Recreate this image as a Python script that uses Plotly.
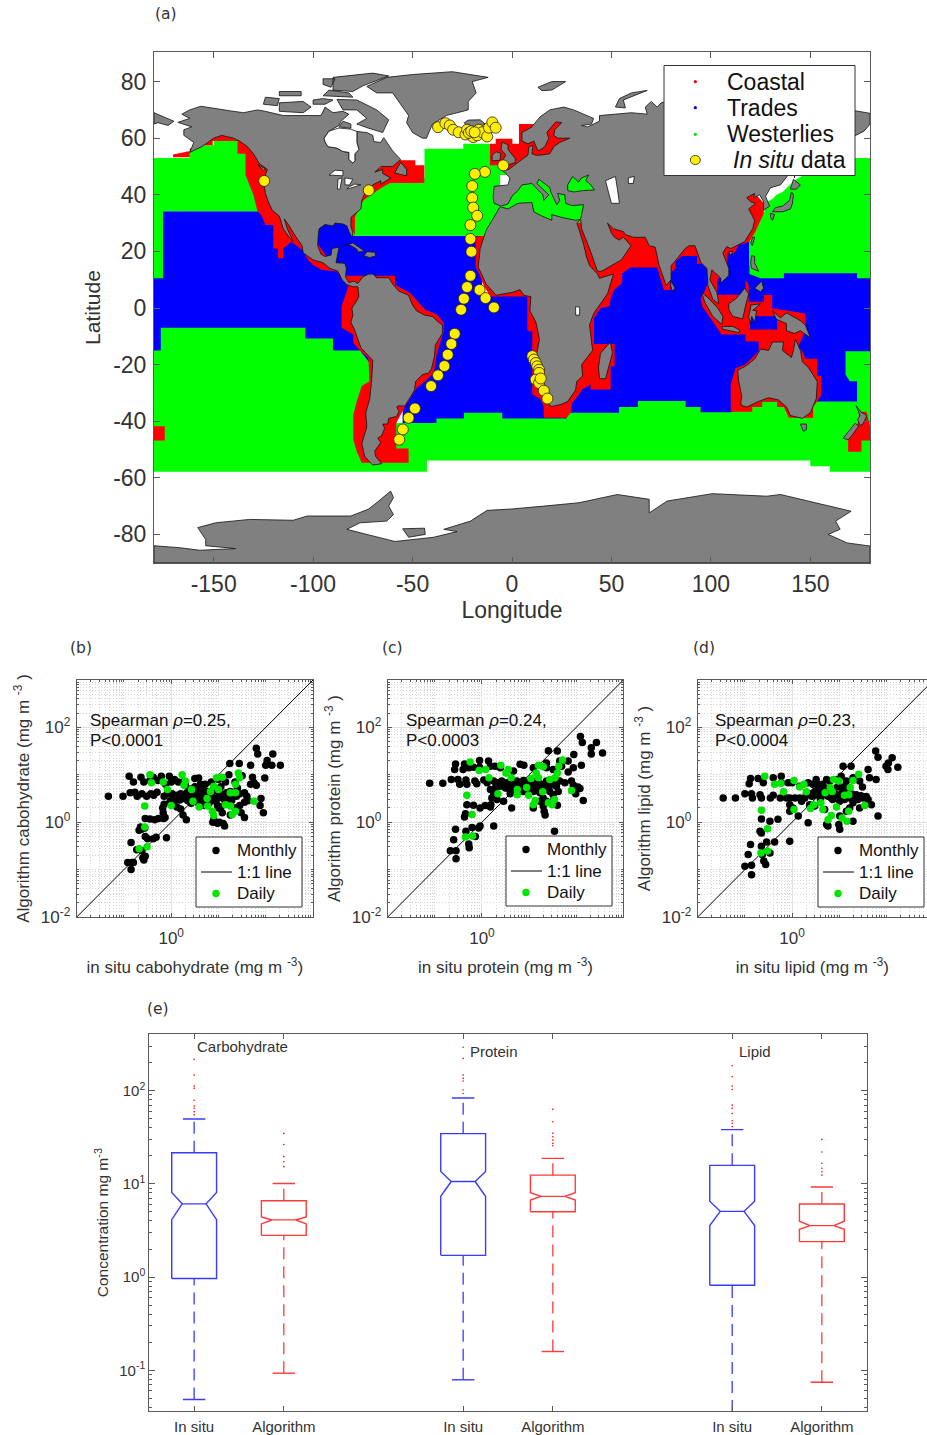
import plotly.graph_objects as go

W, H = 927, 1435

# ---------- Map: ocean provinces (lon, lat) ----------
blue_pacific = [(-180,34.2),(-105,34.2),(-95,20),(-78,8),(-70,-5),(-70,-20),(-180,-20)]
blue_atlantic = [(-99,31),(-81,31),(-79,25.5),(-15,25.5),(-15,5),(15,5),(15,-45),(-55,-45),(-55,-25),(-60,5),(-83,11.4),(-92,17),(-99,20)]
blue_indopacific = [(15,-45),(15,-20),(30,0),(60,20),(119.4,24),(119.4,15),(180,15),(180,-45)]
blue_banda = [(119.7,-2.9),(133.3,-2.9),(133.3,-7.6),(119.7,-7.6)]
green_n_pacific = [(-180,53),(-162,53),(-162,56.4),(-157,56.4),(-157,57.5),(-150,57.5),(-150,59),(-125,59),(-125,34.2),(-175.4,34.2),(-175.4,10.5),(-180,10.5)]
green_n_atlantic = [(-44,56.3),(-24.5,56.3),(-24.5,58),(-11,58),(-1.5,50),(-1.5,43),(-5,36),(-10,25.5),(-81,25.5),(-81,35),(-70,45),(-44,46)]
green_med = [(-6,30),(37,30),(37,47),(-6,47)]
green_nw_pacific = [(180,53),(150,53),(148,47.5),(141.7,45),(139,43),(136,41),(133,40),(131,38.5),(128,37.5),(126.6,33.4),(123,29),(119.4,23),(119.4,12),(125,10.5),(136.7,10.5),(136.7,12.3),(173.5,12.3),(173.5,10.5),(180,10.5)]
green_south = [(-180,-15),(-176.6,-15),(-176.6,-7),(-103.9,-7),(-103.9,-10.8),(-90,-10.8),(-90,-15),(-76.4,-15),(-60,-30),(-58.2,-40.6),(-38,-40.6),(-38,-39),(-24.2,-39),(-24.2,-37),(-4.9,-37),(-4.9,-39),(27.5,-39),(27.5,-37),(53.8,-37),(53.8,-35),(63.3,-35),(63.3,-32.9),(87.3,-32.9),(87.3,-35),(94.8,-35),(94.8,-36.8),(110,-36.8),(125,-33),(173.5,-33),(173.5,-25.9),(169.8,-25.9),(167.7,-23.5),(167.7,-15.3),(180,-15.3),(180,-57.9),(159.8,-57.9),(159.8,-55.9),(150,-55.9),(150,-53.9),(-42.8,-53.9),(-42.8,-57.9),(-180,-57.9)]
red_americas = [(-170.4,53.3),(-162,53.3),(-162,56.4),(-157,56.4),(-157,57.5),(-150.5,57.5),(-150.5,59),(-138,59),(-138,54.5),(-134,54.5),(-134,47),(-132,43.4),(-130,39.9),(-128,34.2),(-126,32.8),(-124,29.3),(-120,29.3),(-120,21),(-117.7,21),(-117.7,17.6),(-115,17.6),(-115,21),(-111,23.4),(-105.5,20.5),(-102.5,17),(-100,15.2),(-95.8,13.5),(-88,12.9),(-84,8.8),(-82.3,7.6),(-85.7,0.6),(-85.7,-7),(-79.8,-9.4),(-79.8,-12.4),(-76.4,-15),(-72.2,-17.6),(-71.7,-25.9),(-75.6,-27.6),(-78.1,-33),(-79.8,-37.9),(-79.8,-46.5),(-78.1,-50.6),(-75.6,-54.7),(-52,-54.7),(-52,-49.6),(-58.2,-49.6),(-58.2,-40.6),(-53.7,-34.7),(-50.3,-31.2),(-47.8,-28.2),(-43.6,-25.9),(-39.4,-22.9),(-37.7,-15.9),(-36,-12.4),(-34.3,-8.2),(-34.3,-5.3),(-37.7,-2.3),(-43.6,-0.6),(-51.2,5.3),(-58.8,8.2),(-58.8,11.4),(-83.2,11.4),(-90,15),(-100,25),(-110,40),(-130,60),(-150,62),(-162,55.5),(-170.4,54.2)]
red_nw_atlantic = [(-79,25.8),(-79,32.2),(-74.7,38.1),(-66.3,42.2),(-61.3,44.2),(-44.1,44.2),(-44.1,50.4),(-48.6,50.4),(-48.6,52.2),(-55.4,52.2),(-60,53),(-75,45),(-82,30)]
red_ne_atlantic = [(-11.1,58),(-8.2,58),(-8.2,59.8),(0.2,59.8),(0.2,58),(3.5,58),(3.5,65),(10.9,65),(25,66),(32,60),(25,53),(8,50),(-1,48),(-3,47.5),(-5,50.4),(-11.1,50.4)]
red_old_world = [(-18.3,25.2),(-18.3,14.6),(-16.5,12),(-14,7.6),(-10.8,4.1),(7.7,4.1),(7.7,-8),(10.2,-8.2),(10.2,-30.6),(14,-32),(16,-34.7),(16,-38.8),(27.5,-38.8),(29.5,-37),(30.3,-33.5),(33.7,-30.6),(35.3,-28.8),(39.5,-27),(39.5,-28.8),(49.6,-28.8),(49.6,-20.6),(51.6,-20.6),(51.6,-12.7),(41.2,-12.7),(41.2,-3.5),(44.6,0),(49.2,0.6),(49.6,3.5),(51.3,6.4),(55.4,8.8),(55.4,12.3),(59.6,14.3),(73,14.3),(76.4,6.4),(79.7,6.4),(79.7,12.3),(82.2,14),(82.2,16.4),(85.6,18.4),(93,18.4),(93,15.6),(97.3,15.6),(99,10),(96.5,5.3),(94.8,3.5),(95.6,0.6),(104.9,-8.8),(105,-9.4),(117.4,-9.4),(117.4,-11.8),(124,-11.8),(124,-15.3),(117.4,-20),(112.4,-21.2),(110,-27),(110,-36.7),(120.8,-36.7),(120.8,-35),(125.8,-35),(125.8,-33),(133.3,-33),(133.3,-35),(136.7,-35),(139.2,-38.8),(151.4,-38.8),(151.4,-35),(153.4,-33),(155.4,-30.8),(155.4,-24),(153.4,-24),(153.4,-17.9),(147.6,-17.9),(145.9,-15.3),(143.9,-13.5),(147.5,-8.2),(147.5,-1.9),(130.8,-0.1),(130.8,4.6),(126.7,4.6),(126.7,2.2),(119,2.2),(119,8.2),(117.4,10),(117.4,4.7),(103.2,4.7),(103.2,10),(108.2,13.5),(108.2,19.3),(111.6,19.3),(114,22.3),(119.4,23.4),(122.4,27),(126.6,33.4),(126.6,37),(122.4,40.4),(118,40.4),(48,32),(33,30)]
red_nz = [(174.4,-36.7),(178.2,-36.7),(180,-41.8),(180,-46.8),(175.7,-46.8),(175.7,-50.8),(169,-50.8),(169,-46.5),(174.4,-40)]
red_dateline = [(-180,-41.8),(-174.6,-41.8),(-174.6,-46.8),(-180,-46.8)]

# ---------- Map: land (lon, lat) ----------
americas = [(-168,65.6),(-164,66.5),(-162,67),(-166,68.5),(-162,70),(-156.5,71.3),(-150,70.5),(-141,69.6),(-135,69),(-128,70),(-124,69.5),(-115,68),(-108,68),(-100,68),(-96,68),(-94,71),(-90,69),(-85,69.5),(-82,68.5),(-86,66),(-87,64.5),(-92,62.5),(-94.5,60),(-94,58.7),(-92.5,57),(-88,56.5),(-85,55.3),(-82,55),(-82,52.5),(-80,51.2),(-79,52),(-79,54.5),(-77,56),(-78,58.5),(-78,62.4),(-73,62),(-70,61),(-69.5,58.8),(-66,58.5),(-64.5,60.2),(-62,57.5),(-60,55.5),(-56,52.5),(-60,50),(-66,50),(-69,48),(-65,49),(-65,47.5),(-61,46),(-64,44.5),(-66,43.7),(-66,45),(-70,43.5),(-70.5,42),(-74,40.5),(-75.5,38),(-76,35),(-78,33.8),(-81,32),(-81,29),(-80,26.5),(-80.5,25),(-82,27),(-83,29),(-85,29.7),(-89,30),(-90,29),(-94,29.5),(-97,28),(-97.5,25),(-97.7,22),(-96,19),(-94,18.2),(-91,18.7),(-90.5,21),(-87,21.5),(-88,18),(-88.5,16),(-84,15.8),(-83.3,14),(-83.7,11),(-82,9),(-79.5,9.5),(-77.5,8.7),(-75,11),(-72,12),(-70,12),(-68,10.7),(-62,10.7),(-60,8.5),(-57,6),(-52,4.5),(-50,1),(-48,-1),(-44,-2.5),(-40,-3),(-37,-5),(-35,-6),(-35,-9),(-38.5,-13),(-39,-17),(-40.5,-21.5),(-42,-23),(-45,-23.5),(-48.5,-26),(-49,-29),(-52,-32.5),(-54,-34.7),(-57,-34.5),(-58,-35),(-56.8,-36.5),(-58,-38.3),(-62,-39),(-62.5,-41),(-65,-41),(-64,-42.5),(-65.5,-45),(-67.5,-46),(-66,-47.5),(-69,-50.5),(-68.5,-52.5),(-65.5,-55),(-70,-55.5),(-74,-52.5),(-75.5,-48),(-73,-42),(-73.5,-37),(-71.5,-32),(-70.5,-25),(-70,-18.5),(-76,-14),(-79,-8),(-81,-5),(-80,-2.5),(-80.5,0),(-78.5,2),(-77,4),(-77.5,7.5),(-80,7.5),(-83,8.3),(-85.5,10),(-87.5,13),(-91.5,14),(-95,16),(-100,17),(-105,19.5),(-105.5,22),(-109,25.5),(-112,29),(-114.5,31.5),(-113,28),(-110,23.5),(-112,25),(-115,28),(-117,32.5),(-120.5,34.5),(-122.5,37.5),(-124,40.5),(-124.5,43),(-124,47),(-123,49),(-127,51),(-130,54.5),(-133,57),(-137,59),(-140,60),(-146,61),(-150,60),(-152,59),(-156,57),(-162,55),(-160,58.5),(-162,59.5),(-165,61),(-165,63),(-161,64)]
eurasia = [(-9,37),(-9.5,39),(-9,43),(-2,43.5),(-1,46),(-4.5,48.5),(-1.5,49),(2,51),(4,52),(8,54),(8.5,57),(10.5,57.5),(10,54.5),(12,54),(14,54),(19,54.5),(21,57),(24,58.5),(29,60),(23,60),(21,61),(21.5,63),(25,65.5),(22,65.8),(17.5,62),(18.5,60),(16.5,57),(14.5,56),(13,55.5),(11,59),(8,58),(5,59),(5,62),(10,64),(14,67.5),(19,70),(26,71),(31,70),(41,67),(40,65),(35,64.5),(38,64),(44,66),(44,68),(54,68.5),(60,69),(68,68.5),(67,71),(70,73),(73,71),(75,72.5),(80,73.5),(87,75),(100,76.5),(105,77.5),(113,74),(125,73.5),(130,71),(140,72.5),(150,71),(160,69.7),(170,70),(180,68.8),(180,65),(177,62.5),(170,60),(163,59.8),(162,56),(157,51),(155.7,57),(163,62),(156,61),(143,59),(135,54.5),(141,53),(140,48),(135,43.5),(130,42.5),(127.5,39.5),(129.5,36),(126.5,34.5),(126.5,37.5),(124.5,40),(121.5,39),(122,40.5),(118,39),(120,37.5),(122.5,37),(119,35),(122,31),(121,28),(117,23.5),(110,21),(108,21.7),(106,19.5),(109,14),(109,11.5),(105,8.8),(105,10.5),(102,12.5),(100.5,13.5),(99.5,10),(103,5.5),(104,1.5),(101,3),(98.5,8),(98,14),(95,16),(94,18),(92,22),(89,22),(87,21),(82,16.5),(80,15),(80,10),(77.5,8),(74,15),(72.7,20),(72,21.5),(69,22),(67,25),(61,25),(57,26),(56,27),(51,28),(48,30),(50,26.5),(51.5,25),(54,24),(56,25),(58.7,23),(59.8,22),(55,17),(45,13),(43,13),(39,21),(35,28),(34.5,31.5),(36,36.5),(30,36.2),(27,37),(26.5,40),(23,40.5),(24,38),(22.5,36.5),(19.5,41),(19,42.5),(13.5,45.5),(12.5,44),(18.5,40),(16,38),(15.5,40),(10,44),(5,43.5),(3,41.5),(0,39.5),(-2,36.8),(-5.5,36)]
africa = [(-6,35.8),(-2,35),(3,37),(10,37.3),(11,34),(15,32.5),(20,31),(20,33),(25,32),(32,31),(34.3,31.3),(32.6,30),(34,27),(36,22.5),(37.5,18),(39,15),(43,12),(44,10.5),(51,12),(48,5),(41,-2),(39,-6),(40.5,-15),(35,-20),(35.5,-24),(32.5,-26),(32,-29),(28,-33),(25,-34),(20,-34.8),(18.3,-34),(15,-27),(12,-18),(13.8,-11),(12,-5),(9,-1),(9.5,4),(6,4.5),(4,6.5),(0,5.5),(-4,5),(-8,4.5),(-13,8.5),(-17,14.5),(-16,21),(-13,27.5),(-10,31)]
australia = [(113.5,-22),(114,-26),(115.5,-31),(115,-34.3),(118,-35),(124,-33),(129,-31.7),(134,-32.5),(138,-35),(140,-38),(146,-39),(150,-37),(153,-32),(153.5,-26),(149,-21),(146,-19),(145,-15),(142.5,-11),(141.5,-15),(140.5,-17.5),(136,-15),(136.5,-12),(131,-12),(129,-15),(125,-14.5),(122,-18),(118,-20.3)]
antarctica = [(-180,-90),(-180,-84),(-167,-84.7),(-157,-85.6),(-139,-85),(-154,-84),(-154,-81.8),(-158,-77.6),(-149,-75.9),(-132,-74.7),(-110,-75),(-103,-73.5),(-81,-73.5),(-72,-71),(-67,-68.2),(-61,-64.7),(-59.6,-67),(-62,-70),(-59.6,-73),(-63,-75.3),(-76.4,-75.9),(-83,-78.2),(-73,-80),(-58.8,-82.5),(-39.4,-81),(-27.6,-79),(-34.3,-78.2),(-20.9,-75.3),(-12.5,-71.5),(0,-71),(16,-70),(33.7,-68.8),(53,-65.9),(69,-67.6),(69,-72.4),(78,-68.2),(100.7,-65.6),(128,-66.5),(135,-65.9),(153,-68.8),(170.5,-71.8),(162.7,-75.3),(165,-78.2),(159,-80),(168.5,-83),(180,-84.1),(180,-90)]
islands = [
 [(-180,69),(-175,67.5),(-170,66),(-173,64.5),(-178,65.5),(-180,65)],
 [(-62,66.5),(-68,70),(-78,73.5),(-88,73.7),(-85,70),(-78,70),(-73,67),(-78,65),(-72,63.5),(-65,62)],
 [(-117,69.5),(-105,69),(-101,71),(-105,73),(-117,72.5)],
 [(-125,72),(-118,71.5),(-117,74),(-124,74.5)],
 [(-90,77),(-80,76.5),(-75,78.5),(-62,82),(-70,83),(-90,81.5)],
 [(-95,75),(-80,74.5),(-82,76),(-92,77)],
 [(-95,79),(-91,78),(-89,81),(-95,81)],
 [(-117,75),(-106,75),(-106,76.5),(-117,76.5)],
 [(-100,72),(-94,72),(-90,73.5),(-95,74),(-100,73.5)],
 [(-87,64),(-81,63.5),(-81,65),(-85,66)],
 [(-59,47.7),(-53,46.7),(-53,49),(-56,51.5)],
 [(-128,50.7),(-124,49.2),(-125,48.6)],
 [(-85,22),(-80,23),(-75,20.5),(-74.3,20),(-77.5,19.8),(-78,20.8),(-82,22.5)],
 [(-74.5,18.5),(-72.8,19.9),(-69,19.7),(-68.5,18.5),(-71.5,17.8)],
 [(-73,78.3),(-68,76),(-60,76),(-55,71),(-52,68),(-53,65.5),(-50,62),(-45,60),(-43,60),(-40,65),(-33,68),(-22,70),(-22,73),(-18,76),(-20,80),(-12,81.5),(-30,83.5),(-50,82.5),(-63,81.5)],
 [(-24,65.5),(-22,66.4),(-16,66.5),(-13.5,65),(-18,63.5),(-22.5,64)],
 [(-5.5,50),(1.5,51.3),(1.7,52.7),(-2,56),(-2,57.7),(-5,58.6),(-5.5,56),(-3,54),(-5,52),(-3,51.3)],
 [(-10,52),(-6,52.2),(-5.7,54.7),(-8,55.2),(-10,54)],
 [(13,78),(20,80),(27,80),(20,77),(15,76.8)],
 [(52,71),(57,70.7),(56,73.5),(68,76.9),(60,76),(54,74)],
 [(95,79),(105,79),(100,81)],
 [(49.5,-12),(50.5,-16),(47,-25),(44,-25),(43.5,-21),(44.5,-16)],
 [(131,-1),(135,-3.5),(138,-1.7),(145,-4.5),(147.5,-6),(150,-10.5),(145,-8),(142,-9),(138,-8),(138,-5.5),(133,-4)],
 [(109,1.5),(113,3.5),(117,7),(119,5),(117.5,1),(116,-3.8),(111,-3),(109,-0.5)],
 [(95.3,5.5),(98,4),(103.5,0),(106,-3),(105.5,-5.8),(101,-3),(97,2)],
 [(105.5,-6.5),(111,-6.5),(114.5,-7.8),(114,-8.7),(106,-7.5)],
 [(120,1),(125,1.5),(121,-0.8),(123,-1),(122,-5),(120.5,-3),(120,-5.5),(119,-3),(120,0)],
 [(120.5,18.5),(122,18.3),(122,16),(124,13),(120.5,14),(120,16)],
 [(122,7),(125.5,9.5),(126.5,7),(125,5.7)],
 [(80,9.5),(82,7),(80.5,6),(79.8,8)],
 [(130.9,34),(132.5,35.5),(136,36),(139.5,38),(140.5,41),(141.5,40),(141,37),(140,35),(136,34),(132,33.8)],
 [(140,42),(141.5,45.5),(145,43.5),(143,42)],
 [(130,33.5),(132,33),(131,31),(130,32)],
 [(142,46),(143,50),(142.8,54),(142,52)],
 [(121,25),(122,25),(120.8,22),(120,23)],
 [(109,20),(111,20),(110,18.3)],
 [(145,-41),(148,-41),(148,-43),(146.5,-43.6)],
 [(173,-34.5),(175.5,-36.8),(178.4,-38),(176.5,-41),(175,-41.5),(173.8,-39.3),(175,-38)],
 [(172.5,-40.7),(174.3,-41.7),(171,-45),(169,-46.6),(166.5,-46),(170,-43)],
 [(-55,-78),(-44,-77.8),(-43.6,-80),(-52,-81)],
]
black_sea = [(28,41.5),(31,41),(36,41.5),(41.5,41.7),(39,44),(37,45),(38.5,47),(35,46),(33.5,44.5),(30.5,46.5),(28,43.5)]
inland_water = [
 [(-94.5,60),(-94,58.7),(-92.5,57),(-88,56.5),(-85,55.3),(-82,55),(-82,52.5),(-80,51.2),(-79,52),(-79,54.5),(-77,56),(-78,58.5),(-78,62.4),(-81,63.2),(-87,63.6),(-92,62.5)],
 [(-92,47),(-85,46.7),(-85,48.5),(-89,48.7)],
 [(-87.8,42),(-86.5,42),(-85.5,46),(-87.5,45.5)],
 [(-84,43.5),(-81.7,43.5),(-80,45.5),(-84,46)],
 [(-83,42),(-79,42.7),(-76,43.5),(-79,43.8),(-82,42.8)],
 [(47,45),(52,46.5),(53,42),(54,37),(50,37),(49,40)],
 [(58.5,46),(61.5,46.5),(61,44),(58.5,44)],
 [(32,0.5),(34,0.3),(34,-2.5),(32,-2.5)],
]

# ---------- In situ stations ----------
insitu_lon = [-124.6,-72,-37.2,-33.5,-31.3,-29.6,-26.8,-23.4,-22.6,-19.5,-17.5,-16.7,-15,-12.5,-11.6,-9.9,-8.2,-21.7,-20.5,-18.8,-4.4,-13.6,-18.7,-20,-20,-19.5,-17.5,-20.9,-20.9,-20.4,-20.9,-22.6,-16.3,-13.3,-24.2,-9.1,-25.6,-28.8,-30.5,-32.3,-34,-37.2,-40.7,-48.8,-52,-54.9,-56.7,10.2,11,12,12.7,13.6,13.6,11.9,13.6,14.4,16,17.8]
insitu_lat = [44.9,41.6,63.9,65.3,64.5,63,62.1,61.3,63,60.4,61,63,62.1,60.6,63.7,65.6,63.7,61.9,62.5,62.1,50.4,48.1,47.4,43.1,38.9,35.5,32.6,29.3,24.4,19.9,11.4,7.4,6.4,3.5,3.3,0.2,-0.6,-9.1,-12.7,-16.5,-20.5,-23.8,-27.6,-35.5,-38.8,-42.9,-46.5,-17,-18.2,-19.4,-20.6,-21.8,-22.9,-25.3,-26.5,-24.9,-29.2,-32]

# ---------- Scatter panels: log10(in situ), log10(algorithm) ----------
b_monthly_x = [-.89,-.80,-.64,-.58,-.45,-.38,-.21,-.28,-.12,-.04,.0,.07,.15,.25,.3,.5,.58,.72,.85,1.0,1.22,1.15,1.35,1.5,1.72,1.75,1.98,1.8,1.68,-1.33,-1.02,-.87,-.77,-.72,-.62,-.52,-.43,-.37,-.3,-.15,-.08,.02,.05,.12,.2,.27,.33,.4,.45,.52,.55,.6,.65,.68,.72,.78,.85,.92,.98,1.05,1.1,1.17,1.25,1.3,1.38,1.45,1.55,1.6,.4,.5,.62,.9,1.05,1.4,-.18,-.15,-.02,.05,.12,.2,.25,.32,-.17,.35,.42,.55,.7,.8,.98,1.05,1.15,1.22,1.35,1.45,1.48,1.55,1.62,1.9,1.88,1.95,1.55,1.0,1.08,-.55,-.45,-.35,-.27,-.16,-.13,.88,.98,1.1,1.13,-.56,-.65,1.02,.9,1.25,-.68,-.63,-.55,-.5,-.38,-.32,-.1,-.85,-.73,-.62,-.55,-.6,-.92,-.83,-.8,-.85,-.58,1.24,1.44,1.68,1.8,1.83,2.0,2.03,2.15,2.13,2.31,.48,.55,.6,.66,.7,.75,.8,.58,.62,.68,.74,.82,.88,.95,1.02,1.12,1.2,1.28,.1,.18,.26,.36,.44,.5,.56,.64,.7,.76,.84]
b_monthly_y = [.97,.85,.95,.85,.88,.95,.97,.88,.8,.97,.85,.9,.85,.85,.78,.92,.93,.8,.85,.9,1.0,.85,.85,.98,.95,.83,.93,.78,.8,.55,.55,.62,.63,.55,.6,.55,.6,.57,.63,.55,.6,.6,.52,.57,.6,.55,.62,.58,.62,.55,.65,.7,.6,.72,.6,.65,.55,.6,.65,.6,.55,.62,.65,.58,.55,.6,.62,.55,.7,.75,.8,.72,.75,.72,.3,.38,.45,.42,.32,.28,.15,.05,.2,.45,.4,.42,.35,.4,.35,.32,.38,.42,.3,.35,.2,.42,.45,.5,.35,.2,.1,.3,.2,.08,.07,.05,.08,.08,.1,.0,-.02,-.03,-.08,-.12,-.1,.0,.05,.15,-.17,-.15,-.3,-.35,-.35,-.32,-.33,-.43,-.58,-.6,-.72,-.75,-.85,-.85,-.85,-1.0,-.8,1.24,1.24,1.2,1.56,1.44,1.2,1.3,1.44,1.2,1.2,.68,.62,.58,.52,.66,.55,.5,.47,.5,.44,.48,.52,.45,.47,.52,.48,.5,.46,.5,.47,.5,.5,.48,.46,.5,.48,.52,.5,.55]
b_daily_x = [-.45,-.42,-.17,-.08,.23,.3,.27,.43,-.56,0,.46,.59,.76,.77,.83,.9,1.0,.96,1.08,.87,.9,1.15,1.25,1.36,1.29,1.25,1.36,1.36,1.42,1.45,1.75,-.56,-.51,-.68]
b_daily_y = [1.0,.83,.85,.69,1.0,.87,.78,.69,.34,.35,.44,.32,.5,.34,.65,.76,.69,.94,.95,.23,.14,.37,.34,.23,.16,.62,.62,.8,1.04,.94,.44,-.1,-.52,-.56]

c_monthly_x = [-1.11,-.83,-.56,-.58,-.37,-.40,-.28,-.18,-.05,-.05,.14,.18,.28,.39,.67,.81,.89,1.09,1.37,1.41,1.60,1.37,1.51,1.69,1.94,1.95,1.83,2.11,1.83,1.65,2.09,2.13,2.32,2.32,2.43,2.56,-.65,-.51,-.47,-.34,-.32,-.15,-.11,.04,.11,.25,.32,.42,.53,.63,.74,.81,.88,.95,1.09,1.20,1.27,1.37,1.51,1.65,1.76,1.90,1.94,2.04,2.08,1.99,.18,.28,.25,.21,.32,.19,.46,.60,.63,.74,.88,1.09,1.23,1.30,1.44,1.51,1.62,1.09,1.23,1.30,1.37,1.32,1.34,1.51,1.60,2.15,-.32,-.18,-.04,.07,.18,-.35,-.37,-.56,-.34,-.21,-.04,-.07,.25,1.54,-.60,-.14,-.28,-.27,-.67,-.55,-.55,.3,.38,.46,.56,.66,.72,.8,.86,.94,1.02,1.12,1.16,1.28,1.34,1.42,1.58,.5,.58,.68,.98,1.06,1.18,1.4]
c_monthly_y = [.82,.82,1.23,1.11,1.23,1.11,1.15,1.16,1.30,1.16,1.29,1.18,1.18,1.15,1.08,1.22,1.20,1.15,1.25,1.51,1.50,1.15,1.11,1.18,1.15,1.43,1.29,1.20,1.06,1.29,1.81,1.68,1.57,1.44,1.68,1.46,.90,.90,.80,.89,.80,.87,.81,.89,.83,.87,.83,.87,.83,.88,.87,.83,.88,.83,.87,.83,.80,.87,.80,.87,.83,.87,.78,.74,.71,.60,.69,.70,.58,.51,.48,.37,.44,.60,.30,.65,.65,.65,.62,.51,.65,.58,.65,.30,.44,.34,.44,.23,.15,.44,.36,.46,.37,.36,.30,.35,.32,.18,.11,-.15,-.19,-.11,-.08,-.12,-.08,-.19,-.37,-.30,-.46,-.54,-.60,-.60,-.77,.78,.76,.78,.76,.75,.78,.76,.74,.76,.76,.74,.72,.76,.72,.74,.76,.72,.7,.7,.72,.7,.72,.7]
c_daily_x = [-.25,-.06,.08,.15,.40,.51,.56,.62,-.32,.34,.75,.75,.95,.99,1.04,1.15,1.20,1.20,1.30,1.29,1.13,1.09,1.44,1.55,1.60,1.63,1.71,1.90,1.41,1.49,1.54,-.21,-.20,-.35]
c_daily_y = [1.27,1.09,1.11,.94,1.20,1.04,1.11,.94,.57,.60,.69,.58,.73,.57,.92,1.04,.94,1.20,1.17,.64,.46,.37,.90,.94,1.04,1.18,1.31,.67,.41,.37,.48,.16,-.29,-.31]

d_monthly_x = [-1.46,-1.20,-1.0,-.84,-.86,-.68,-.65,-.46,-.40,-.25,-.12,-.88,-.91,-.72,-.61,-.40,-.23,-.23,-.08,0,.16,.34,.51,.55,.73,1.08,1.25,1.04,1.15,1.29,1.61,1.64,1.78,1.77,1.82,2.12,1.99,2.03,2.04,2.24,1.49,1.57,1.61,1.68,1.82,-.05,.06,.16,.27,.37,.48,.58,.69,.73,.83,.94,1.01,1.11,1.22,1.29,1.39,1.43,1.22,1.15,1.01,.73,.76,1.01,.99,1.29,.34,-.05,.13,-.05,-.05,.02,.20,.37,.48,.69,-.65,-.47,-.30,-.54,-.37,-.68,-.65,-.65,-.88,-.93,-1.0,-.86,-.86,-.60,-.56,-.63,-.47,.44,.65,.80,.94,1.08,1.18,1.36,1.50,1.43,.3,.42,.52,.6,.76,.86,.9,1.0,1.06,1.16,1.26,1.34,1.46,.56,.66,.78,.96,1.08]
d_monthly_y = [.51,.51,.60,.51,.60,.58,.51,.51,.57,.51,.51,.92,.81,.92,.83,.94,.97,.83,.83,.83,.76,.83,.90,.80,.90,1.18,1.18,.97,.87,.94,1.11,.94,.90,1.50,1.37,1.36,1.18,1.11,1.25,1.16,.74,.54,.48,.37,.13,.51,.51,.51,.51,.60,.65,.62,.58,.65,.51,.58,.44,.48,.51,.41,.48,.30,.30,.23,.13,-.05,-.08,-.15,-.05,.02,-.01,-.40,.13,.23,.37,.30,.44,.37,.34,.27,.07,.02,.06,-.42,-.42,-.19,-.23,-.51,-.47,-.68,-.93,-.91,-1.11,-.82,-.89,-.68,-.65,.80,.80,.87,.90,.65,.73,.58,.51,.87,.58,.55,.58,.48,.55,.48,.6,.54,.62,.57,.6,.56,.56,.7,.72,.72,.74,.74]
d_daily_x = [-.58,-.37,-.24,-.18,.04,.16,.25,.30,-.65,.04,.39,.46,.61,.65,.70,.81,.85,.88,.99,.94,.76,.83,1.06,1.16,1.20,1.11,1.20,1.23,1.29,1.41,1.54,-.52,-.52,-.66]
d_daily_y = [.97,.80,.82,.64,.88,.74,.80,.64,.25,.27,.29,.37,.41,.27,.62,.73,.65,.90,.87,.32,.05,.14,.09,.02,.23,.57,.58,.73,.88,1.01,.35,-.14,-.61,-.65]

# ---------- Box panel ----------
box_positions = [1, 2, 4, 5, 7, 8]
box_colors = ["#3a3aff", "#ff3a3a", "#3a3aff", "#ff3a3a", "#3a3aff", "#ff3a3a"]
box_labels = ["In situ", "Algorithm", "In situ", "Algorithm", "In situ", "Algorithm"]
whisker_low = [0.0485, 0.093, 0.079, 0.159, 0.0357, 0.0745]
q1 = [0.964, 2.8, 1.71, 5.03, 0.817, 2.4]
notch_low = [4.13, 3.72, 7.36, 6.72, 3.57, 3.26]
median = [6.1, 4.1, 10.6, 7.36, 5.08, 3.57]
notch_high = [8.1, 4.42, 13.6, 8.05, 6.5, 3.98]
q3 = [21.6, 6.6, 34.6, 12.4, 15.8, 6.08]
whisker_high = [49.7, 10.1, 83.4, 18.8, 38.2, 9.27]
outliers = [
    [217, 147, 112, 106, 79, 68.5, 64.6, 59.6, 55],
    [34.8, 26.5, 19.6, 17.3, 15.3],
    [292, 222, 147, 135.5, 127, 101.6, 93.3],
    [63, 46.5, 34.8, 32, 29.5, 27.2, 25.7],
    [185, 141, 112, 103, 70, 64.6, 57, 47.6, 44.7, 41],
    [30, 22, 16.6, 14.7, 13.5, 12.4],
]

TXT = "#333333"
AX = "#5a5a5a"
SANS = "Liberation Sans"
GREEN = "#00e600"


def split(poly):
    return [p[0] for p in poly] + [poly[0][0]], [p[1] for p in poly] + [poly[0][1]]


def join(polys):
    xs, ys = [], []
    for p in polys:
        a, b = split(p)
        xs += a + [None]
        ys += b + [None]
    return xs, ys


fig = go.Figure()


def area(polys, color, line=None):
    xs, ys = join(polys)
    fig.add_trace(go.Scatter(
        x=xs, y=ys, mode="lines", fill="toself", fillcolor=color, hoverinfo="skip", showlegend=False,
        line=dict(color=line or color, width=0.8 if line else 0), xaxis="x", yaxis="y"))


area([blue_pacific, blue_atlantic, blue_indopacific], "#0000ff")
area([green_n_pacific, green_n_atlantic, green_med, green_nw_pacific, green_south], "#00ff00")
area([red_americas, red_nw_atlantic, red_ne_atlantic, red_old_world, red_nz, red_dateline], "#ff0000")
area([blue_banda], "#0000ff")
area([americas, eurasia, africa, australia, antarctica] + islands, "#808080", "#111111")
area([black_sea], "#00ff00", "#111111")
area(inland_water, "#ffffff", "#111111")

fig.add_trace(go.Scatter(x=insitu_lon, y=insitu_lat, mode="markers", name="In situ data", showlegend=False,
                         marker=dict(color="#ffee00", size=11, line=dict(color="#222222", width=0.8)),
                         xaxis="x", yaxis="y"))


def scatter_panel(n, xs, ys, gx, gy):
    ax, ay = f"x{n}", f"y{n}"
    fig.add_trace(go.Scatter(x=[10 ** v for v in xs], y=[10 ** v for v in ys], mode="markers", name="Monthly", showlegend=False,
                             marker=dict(color="#000000", size=7.5), xaxis=ax, yaxis=ay))
    fig.add_trace(go.Scatter(x=[0.01, 1000], y=[0.01, 1000], mode="lines", name="1:1 line", showlegend=False,
                             line=dict(color="#000000", width=1), xaxis=ax, yaxis=ay))
    fig.add_trace(go.Scatter(x=[10 ** v for v in gx], y=[10 ** v for v in gy], mode="markers", name="Daily", showlegend=False,
                             marker=dict(color=GREEN, size=7.5), xaxis=ax, yaxis=ay))


scatter_panel(2, b_monthly_x, b_monthly_y, b_daily_x, b_daily_y)
scatter_panel(3, c_monthly_x, c_monthly_y, c_daily_x, c_daily_y)
scatter_panel(4, d_monthly_x, d_monthly_y, d_daily_x, d_daily_y)

# Box plots
HALF, NOTCH, CAP = 0.25, 0.133, 0.125
for i, pos in enumerate(box_positions):
    c = box_colors[i]
    ox = [pos - HALF, pos + HALF, pos + HALF, pos + NOTCH, pos + HALF, pos + HALF, pos - HALF, pos - HALF, pos - NOTCH, pos - HALF, pos - HALF]
    oy = [q1[i], q1[i], notch_low[i], median[i], notch_high[i], q3[i], q3[i], notch_high[i], median[i], notch_low[i], q1[i]]
    fig.add_trace(go.Scatter(x=ox, y=oy, mode="lines", line=dict(color=c, width=1.4), showlegend=False, xaxis="x5", yaxis="y5"))
    fig.add_trace(go.Scatter(x=[pos - NOTCH, pos + NOTCH], y=[median[i], median[i]], mode="lines", line=dict(color=c, width=1.3), showlegend=False, xaxis="x5", yaxis="y5"))
    for a, b in [(whisker_low[i], q1[i]), (q3[i], whisker_high[i])]:
        fig.add_trace(go.Scatter(x=[pos, pos], y=[a, b], mode="lines", line=dict(color=c, width=1.3, dash="12px,7px"), showlegend=False, xaxis="x5", yaxis="y5"))
    for v in (whisker_low[i], whisker_high[i]):
        fig.add_trace(go.Scatter(x=[pos - CAP, pos + CAP], y=[v, v], mode="lines", line=dict(color=c, width=1.4), showlegend=False, xaxis="x5", yaxis="y5", cliponaxis=False))
    fig.add_trace(go.Scatter(x=[pos] * len(outliers[i]), y=outliers[i], mode="markers", marker=dict(color="#ff0000", size=1.6), showlegend=False, xaxis="x5", yaxis="y5"))


def px_x(a, b):
    return [a / W, min(b / W, 1)]


def px_y(top, bottom):
    return [1 - bottom / H, 1 - top / H]


layout = dict(
    width=W, height=H, autosize=False, margin=dict(l=0, r=0, t=0, b=0, pad=0, autoexpand=False),
    paper_bgcolor="white", plot_bgcolor="white", showlegend=False,
    font=dict(family=SANS, color=TXT),
)

axis_common = dict(showline=True, linecolor=AX, linewidth=1, mirror="ticks", ticks="inside", tickcolor=AX, zeroline=False, showgrid=False, automargin=False)

lon_ticks = [-150, -100, -50, 0, 50, 100, 150]
lat_ticks = [-80, -60, -40, -20, 0, 20, 40, 60, 80]
layout["xaxis"] = dict(axis_common, domain=px_x(154, 870), range=[-180, 180], anchor="y", tickmode="array", tickvals=lon_ticks, ticktext=[str(v) for v in lon_ticks],
                       ticklen=6, tickfont=dict(size=23, color=TXT), title=dict(text="Longitude", font=dict(size=23, color=TXT), standoff=6), ticklabelstandoff=0)
layout["yaxis"] = dict(axis_common, domain=px_y(52, 563), range=[-90.1, 90.46], anchor="x", tickmode="array", tickvals=lat_ticks, ticktext=[str(v) for v in lat_ticks],
                       ticklen=6, tickfont=dict(size=23, color=TXT), title=dict(text="Latitude", font=dict(size=21, color=TXT), standoff=6), ticklabelstandoff=2)


def minor_vals(lo, hi, skip):
    out = []
    for e in range(lo, hi):
        for m in range(1, 10):
            v = m * 10.0 ** e
            if not (m == 1 and e in skip):
                out.append(v)
    return out


panels = [
    (2, 76.7, 313, -2, 3, "cabohydrate"),
    (3, 387.7, 623.3, -2, 3, "protein"),
    (4, 697.7, 927, -2, 2.858, "lipid"),
]
for n, l, r, xlo, xhi, word in panels:
    base = dict(axis_common, griddash="solid", showgrid=True, gridcolor="#e2e2e2", gridwidth=1, ticklen=4, tickmode="array")
    minor = dict(ticks="inside", ticklen=2, tickcolor=AX, showgrid=True, gridcolor="#d6d6d6", griddash="1px,2px", gridwidth=0.8, tickmode="array")
    layout[f"xaxis{n}"] = dict(base, domain=px_x(l, r), type="log", range=[xlo, xhi], anchor=f"y{n}",
                               tickvals=[1], ticktext=["10<sup>0</sup>"], tickfont=dict(size=17, color=TXT), ticklabelstandoff=6,
                               minor=dict(minor, tickvals=minor_vals(-2, 3, {0})),
                               title=dict(text=f"in situ {word} (mg m <sup>-3</sup>)", font=dict(size=17, color=TXT), standoff=13))
    layout[f"yaxis{n}"] = dict(base, domain=px_y(680, 917), type="log", range=[-2, 3], anchor=f"x{n}",
                               tickvals=[0.01, 1, 100], ticktext=["10<sup>-2</sup>", "10<sup>0</sup>", "10<sup>2</sup>"], tickfont=dict(size=17, color=TXT), ticklabelstandoff=2,
                               minor=dict(minor, tickvals=minor_vals(-2, 3, {-2, 0, 2})),
                               title=dict(text=f"Algorithm {word} (mg m <sup>-3</sup> )", font=dict(size=17, color=TXT), standoff=6))
layout["yaxis4"]["mirror"] = False

layout["xaxis5"] = dict(axis_common, domain=px_x(149.3, 866.7), range=[0.5, 8.5], anchor="y5", tickmode="array", tickvals=box_positions, ticktext=box_labels,
                        ticklen=5, tickfont=dict(size=15, color=TXT), ticklabelstandoff=2)
layout["yaxis5"] = dict(axis_common, domain=px_y(1034.3, 1411), type="log", range=[-1.437, 2.605], anchor="x5", tickmode="array",
                        tickvals=[0.1, 1, 10, 100], ticktext=["10<sup>-1</sup>", "10<sup>0</sup>", "10<sup>1</sup>", "10<sup>2</sup>"],
                        ticklen=6, tickfont=dict(size=15, color=TXT),
                        minor=dict(ticks="inside", ticklen=3, tickcolor=AX, tickmode="array", tickvals=[m * 10.0 ** e for e in range(-2, 3) for m in range(2, 10)]),
                        title=dict(text="Concentration mg m<sup>-3</sup>", font=dict(size=15.5, color=TXT), standoff=6))

anno = []
shapes = []


def note(text, x, y, size, color=TXT, family=SANS, anchor="left"):
    anno.append(dict(text=text, x=x / W, y=1 - y / H, xref="paper", yref="paper", xanchor=anchor, yanchor="middle", showarrow=False,
                     borderpad=0, font=dict(family=family, size=size, color=color)))


def rect(x0, y0, x1, y1):
    shapes.append(dict(type="rect", xref="paper", yref="paper", x0=x0 / W, x1=x1 / W, y0=1 - y1 / H, y1=1 - y0 / H,
                       fillcolor="white", line=dict(color="#333333", width=1), layer="above"))


def dot(x, y, rx, ry, color, edge=None):
    shapes.append(dict(type="circle", xref="paper", yref="paper", x0=(x - rx) / W, x1=(x + rx) / W, y0=1 - (y + ry) / H, y1=1 - (y - ry) / H,
                       fillcolor=color, line=dict(color=edge or color, width=0.8 if edge else 0), layer="above"))


for text, x, y in [("(a)", 154, 14), ("(b)", 69, 648), ("(c)", 381, 648), ("(d)", 692, 648), ("(e)", 146, 1009)]:
    note(text, x, y, 15.5, family="DejaVu Sans")
for rho, p, x in [("0.25", "0.0001", 89), ("0.24", "0.0003", 405), ("0.23", "0.0004", 714)]:
    note(f"Spearman <i>ρ</i>={rho},", x, 720, 17, "#111111")
    note(f"P&lt;{p}", x, 740, 17, "#111111")
for text, x, y in [("Carbohydrate", 196, 1046), ("Protein", 469, 1051), ("Lipid", 738, 1051)]:
    note(text, x, y, 15)

# Map legend
rect(664, 65.5, 855, 175.5)
for label, col, y in [("Coastal", "#ff0000", 81.7), ("Trades", "#0000ff", 107.7), ("Westerlies", "#00e000", 134.3)]:
    dot(695.3, y, 1.6, 1.6, col)
    note(label, 726, y, 23, "#111111")
dot(695.3, 160, 5, 4.6, "#ffee00", "#222222")
note("<i>In situ</i> data", 732, 160, 23, "#111111")

# Scatter legends
for left, top in [(196, 837), (506, 836), (818, 837)]:
    rect(left, top, left + 106, top + 70)
    dot(left + 20, top + 13.5, 3.7, 3.7, "#000000")
    note("Monthly", left + 40, top + 13.5, 17, "#111111")
    shapes.append(dict(type="line", xref="paper", yref="paper", x0=(left + 5) / W, x1=(left + 36) / W, y0=1 - (top + 35) / H, y1=1 - (top + 35) / H,
                       line=dict(color="#000000", width=1), layer="above"))
    note("1:1 line", left + 40, top + 35, 17, "#111111")
    dot(left + 20, top + 56.5, 3.7, 3.7, GREEN)
    note("Daily", left + 40, top + 56.5, 17, "#111111")

layout["annotations"] = anno
layout["shapes"] = shapes

fig.update_layout(**layout)
fig.write_html("out.html", config={"displayModeBar": False}, default_height=H, default_width=W,
               post_script="document.body.style.margin='0';document.documentElement.style.overflow='hidden';")
